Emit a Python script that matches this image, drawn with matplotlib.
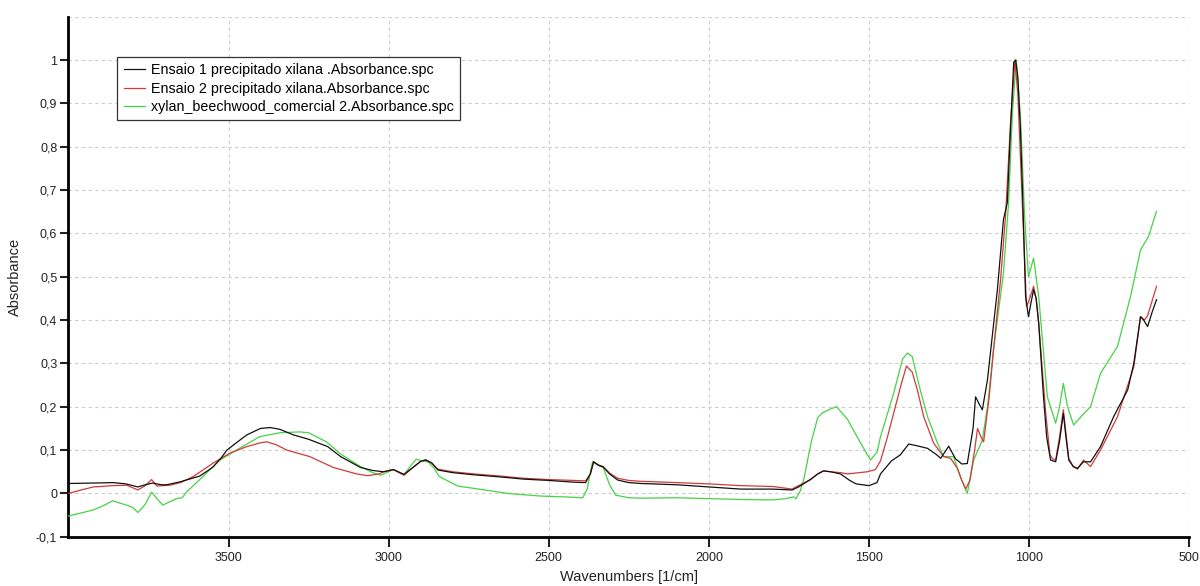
import numpy as np
import matplotlib
matplotlib.use("Agg")
import matplotlib.pyplot as plt
from matplotlib.ticker import FuncFormatter

plt.rcParams['font.family'] = ['Liberation Sans', 'DejaVu Sans']

# Spectra: (wavenumber, absorbance)
black_wn = [4000, 3920, 3860, 3820, 3783, 3760, 3737, 3710, 3693, 3650, 3590, 3550, 3525, 3505,
            3470, 3443, 3400, 3370, 3340, 3297, 3250, 3190, 3150, 3088, 3050, 3016, 2985, 2952,
            2924, 2900, 2884, 2865, 2846, 2800, 2734, 2650, 2578, 2500, 2422, 2385, 2370, 2360,
            2345, 2330, 2310, 2285, 2250, 2213, 2100, 2000, 1900, 1800, 1740, 1720, 1683, 1660,
            1642, 1620, 1589, 1560, 1540, 1500, 1475, 1464, 1430, 1402, 1376, 1350, 1317, 1290,
            1276, 1251, 1230, 1210, 1193, 1175, 1167, 1155, 1146, 1130, 1099, 1080, 1068, 1058,
            1048, 1042, 1035, 1027, 1020, 1011, 1002, 994, 986, 978, 970, 955, 945, 933, 917,
            905, 893, 885, 876, 862, 849, 830, 808, 777, 736, 692, 673, 652, 642, 630, 615, 602]
black_ab = [0.023, 0.024, 0.025, 0.022, 0.015, 0.020, 0.024, 0.020, 0.020, 0.027, 0.040, 0.060,
            0.080, 0.100, 0.120, 0.135, 0.150, 0.152, 0.148, 0.135, 0.125, 0.108, 0.085, 0.060,
            0.053, 0.050, 0.055, 0.044, 0.060, 0.074, 0.077, 0.070, 0.054, 0.048, 0.043, 0.038,
            0.033, 0.030, 0.026, 0.025, 0.045, 0.073, 0.065, 0.061, 0.045, 0.031, 0.025, 0.023,
            0.020, 0.015, 0.010, 0.010, 0.008, 0.015, 0.032, 0.045, 0.052, 0.050, 0.045, 0.030,
            0.022, 0.018, 0.025, 0.045, 0.075, 0.089, 0.114, 0.110, 0.104, 0.090, 0.081, 0.109,
            0.080, 0.068, 0.069, 0.150, 0.223, 0.205, 0.193, 0.262, 0.470, 0.632, 0.671, 0.840,
            0.995, 1.000, 0.960, 0.840, 0.686, 0.455, 0.408, 0.440, 0.470, 0.450, 0.393, 0.223,
            0.130, 0.077, 0.073, 0.120, 0.185, 0.130, 0.077, 0.062, 0.058, 0.073, 0.073, 0.108,
            0.177, 0.239, 0.300, 0.408, 0.400, 0.385, 0.420, 0.447]

red_wn = [4000, 3960, 3922, 3860, 3818, 3783, 3760, 3740, 3724, 3683, 3650, 3610, 3548, 3496,
          3443, 3400, 3380, 3350, 3318, 3246, 3173, 3100, 3066, 3030, 3016, 2985, 2952, 2924,
          2900, 2884, 2865, 2846, 2800, 2734, 2650, 2578, 2500, 2422, 2385, 2370, 2360, 2345,
          2330, 2310, 2285, 2250, 2213, 2100, 2000, 1900, 1800, 1740, 1720, 1683, 1660, 1642,
          1620, 1589, 1567, 1530, 1505, 1480, 1464, 1442, 1423, 1400, 1383, 1365, 1349, 1329,
          1298, 1267, 1245, 1224, 1210, 1198, 1185, 1170, 1161, 1150, 1142, 1125, 1110, 1089,
          1073, 1058, 1044, 1035, 1020, 1008, 998, 986, 978, 970, 948, 935, 927, 917, 905, 893,
          885, 876, 862, 849, 830, 808, 777, 724, 673, 652, 640, 630, 602]
red_ab = [0.000, 0.008, 0.015, 0.018, 0.019, 0.008, 0.018, 0.032, 0.017, 0.019, 0.025, 0.039,
          0.070, 0.093, 0.108, 0.117, 0.119, 0.112, 0.100, 0.085, 0.060, 0.045, 0.041, 0.045,
          0.050, 0.055, 0.042, 0.060, 0.074, 0.078, 0.070, 0.056, 0.050, 0.045, 0.040, 0.035,
          0.032, 0.030, 0.029, 0.045, 0.073, 0.066, 0.062, 0.047, 0.035, 0.030, 0.028, 0.025,
          0.022, 0.018, 0.016, 0.010, 0.018, 0.032, 0.045, 0.052, 0.050, 0.048, 0.045, 0.048,
          0.050, 0.055, 0.075, 0.131, 0.185, 0.250, 0.294, 0.280, 0.239, 0.177, 0.116, 0.085,
          0.081, 0.058, 0.030, 0.010, 0.030, 0.100, 0.150, 0.130, 0.119, 0.220, 0.339, 0.493,
          0.647, 0.855, 1.000, 0.920, 0.647, 0.431, 0.450, 0.478, 0.450, 0.393, 0.185, 0.090,
          0.080, 0.077, 0.130, 0.193, 0.140, 0.080, 0.062, 0.056, 0.077, 0.062, 0.100, 0.177,
          0.292, 0.408, 0.400, 0.410, 0.478]

green_wn = [4000, 3960, 3922, 3890, 3862, 3840, 3818, 3800, 3783, 3760, 3740, 3720, 3705, 3680,
            3662, 3645, 3630, 3580, 3527, 3475, 3440, 3403, 3340, 3278, 3250, 3194, 3150, 3088,
            3050, 3025, 2985, 2952, 2930, 2914, 2895, 2877, 2860, 2842, 2784, 2700, 2629, 2526,
            2450, 2394, 2380, 2370, 2363, 2345, 2330, 2310, 2291, 2250, 2213, 2100, 2000, 1900,
            1800, 1760, 1735, 1728, 1715, 1704, 1680, 1660, 1645, 1620, 1601, 1567, 1526, 1495,
            1475, 1464, 1423, 1395, 1380, 1365, 1340, 1317, 1286, 1267, 1250, 1236, 1215, 1193,
            1173, 1146, 1130, 1110, 1080, 1064, 1052, 1040, 1027, 1014, 1002, 986, 970, 943, 917,
            905, 893, 880, 861, 833, 808, 777, 724, 683, 652, 627, 602]
green_ab = [-0.052, -0.045, -0.038, -0.028, -0.017, -0.022, -0.027, -0.032, -0.044, -0.025,
            0.003, -0.015, -0.027, -0.018, -0.012, -0.010, 0.004, 0.039, 0.077, 0.100, 0.115,
            0.131, 0.140, 0.142, 0.140, 0.119, 0.091, 0.062, 0.048, 0.042, 0.055, 0.043, 0.065,
            0.079, 0.075, 0.073, 0.060, 0.039, 0.017, 0.008, 0.000, -0.006, -0.008, -0.010,
            0.010, 0.050, 0.073, 0.065, 0.060, 0.020, -0.004, -0.010, -0.011, -0.010, -0.012,
            -0.014, -0.015, -0.012, -0.008, -0.012, 0.005, 0.031, 0.120, 0.175, 0.186, 0.195,
            0.200, 0.171, 0.116, 0.077, 0.095, 0.131, 0.231, 0.310, 0.324, 0.316, 0.239, 0.177,
            0.116, 0.085, 0.085, 0.085, 0.039, 0.000, 0.077, 0.123, 0.200, 0.339, 0.508, 0.671,
            0.878, 1.000, 0.870, 0.640, 0.500, 0.543, 0.455, 0.223, 0.162, 0.200, 0.254, 0.200,
            0.158, 0.181, 0.200, 0.277, 0.339, 0.455, 0.562, 0.593, 0.651]

labels = ["Ensaio 1 precipitado xilana .Absorbance.spc",
          "Ensaio 2 precipitado xilana.Absorbance.spc",
          "xylan_beechwood_comercial 2.Absorbance.spc"]

x_ticks = [3500, 3000, 2500, 2000, 1500, 1000, 500]
y_ticks = [-0.1, 0, 0.1, 0.2, 0.3, 0.4, 0.5, 0.6, 0.7, 0.8, 0.9, 1.0]

fig = plt.figure(figsize=(12, 5.86), dpi=100)
ax = fig.add_axes([0.057, 0.084, 0.934, 0.8875])

l3, = ax.plot(green_wn, green_ab, color="#46d246", lw=0.9, zorder=3)
l2, = ax.plot(red_wn, red_ab, color="#d03a3a", lw=0.9, zorder=4)
l1, = ax.plot(black_wn, black_ab, color="#111111", lw=0.9, zorder=5)

ax.set_xlim(4000, 500)
ax.set_ylim(-0.1, 1.1)
ax.set_xticks(x_ticks)
ax.set_yticks(y_ticks)


def comma_fmt(v, pos):
    if abs(v - round(v)) < 1e-9:
        return f"{int(round(v))}"
    return f"{v:.1f}".replace(".", ",")


ax.yaxis.set_major_formatter(FuncFormatter(comma_fmt))
ax.grid(True, color="#cccccc", linestyle=(0, (3, 3)), linewidth=0.8)
ax.axhline(1.1, color="#cccccc", linestyle=(0, (3, 3)), linewidth=0.8)

for s in ["top", "right"]:
    ax.spines[s].set_visible(False)
for s in ["left", "bottom"]:
    ax.spines[s].set_linewidth(2)

ax.tick_params(axis="y", direction="out", length=6, width=1.5, labelsize=9, colors="#222222", pad=2)
ax.tick_params(axis="x", direction="out", length=7, width=1.5, labelsize=9, colors="#222222", pad=4)

ax.set_xlabel("Wavenumbers [1/cm]", fontsize=10.5, color="#222222", labelpad=4)
ax.set_ylabel("Absorbance", fontsize=10.5, color="#222222", labelpad=10)

leg = ax.legend([l1, l2, l3], labels, loc="upper left", bbox_to_anchor=(0.0435, 0.9225),
                fontsize=10.3, frameon=True, fancybox=False, framealpha=1,
                edgecolor="#333333", handlelength=1.5, labelspacing=0.3,
                handletextpad=0.4, borderpad=0.45, borderaxespad=0)
leg.get_frame().set_linewidth(0.9)

fig.savefig("out.png", dpi=100)
